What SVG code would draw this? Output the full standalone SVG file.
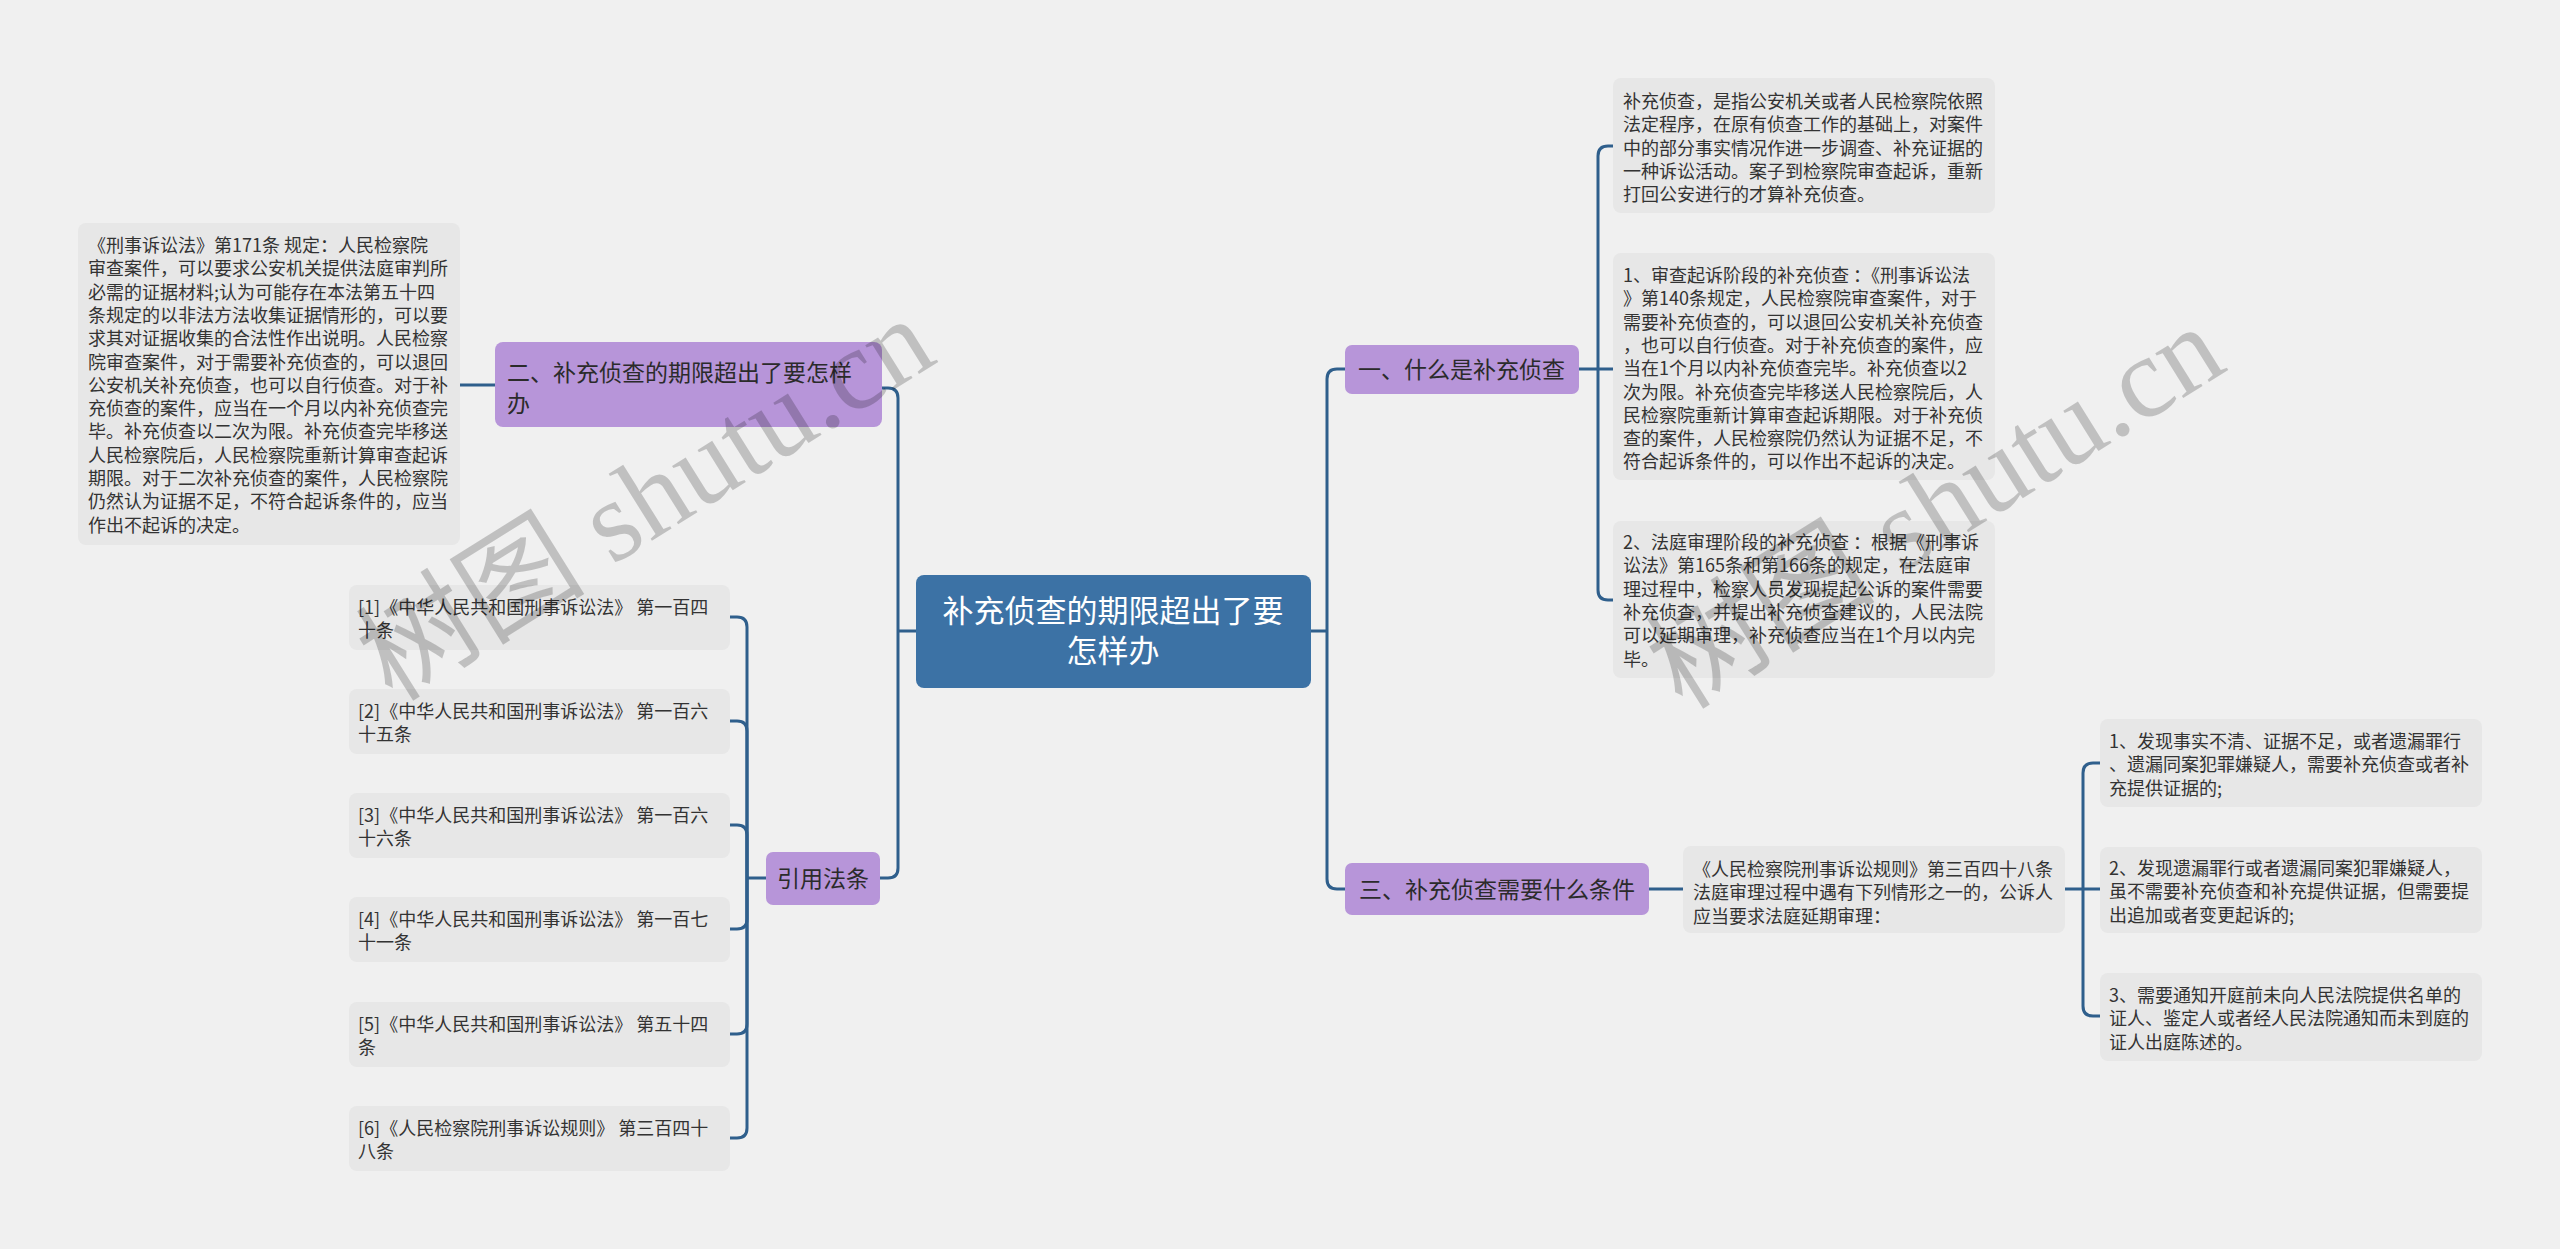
<svg xmlns="http://www.w3.org/2000/svg" width="2560" height="1249" viewBox="0 0 2560 1249">
<style>
.bg{fill:#f0f0f0}
.leaf{fill:#e7e7e7}
.sub{fill:#b795d9}
.root{fill:#3c72a5}
.lt{font-family:'Noto Sans CJK SC','Noto Sans',sans-serif;font-size:18px;fill:#333}
.st{font-family:'Noto Sans CJK SC','Noto Sans',sans-serif;font-size:23px;fill:#2b2b2b}
.rt{font-family:'Noto Sans CJK SC','Noto Sans',sans-serif;font-size:31px;fill:#ffffff;text-anchor:middle}
.wm{font-family:'Liberation Serif','Noto Sans CJK SC',serif;font-size:115px;fill:#000;fill-opacity:0.2;text-anchor:middle}
#connectors path{fill:none;stroke:#2f5f8c;stroke-width:3}
</style>
<rect class="bg" x="0" y="0" width="2560" height="1249"/>
<g id="connectors">
<path d="M916 631 H898"/>
<path d="M898 631 V398 Q898 388 888 388 H882"/>
<path d="M898 631 V868 Q898 878 888 878 H880"/>
<path d="M495 385 H460"/>
<path d="M766 878 H747"/>
<path d="M747 878 V627 Q747 617 737 617 H730"/>
<path d="M747 878 V731 Q747 721 737 721 H730"/>
<path d="M747 878 V835 Q747 825 737 825 H730"/>
<path d="M747 878 V919 Q747 929 737 929 H730"/>
<path d="M747 878 V1024 Q747 1034 737 1034 H730"/>
<path d="M747 878 V1128 Q747 1138 737 1138 H730"/>
<path d="M1311 631 H1327"/>
<path d="M1327 631 V379 Q1327 369 1337 369 H1345"/>
<path d="M1327 631 V879 Q1327 889 1337 889 H1345"/>
<path d="M1579 369 H1598"/>
<path d="M1598 369 V156 Q1598 146 1608 146 H1613"/>
<path d="M1598 369 H1613"/>
<path d="M1598 369 V590 Q1598 600 1608 600 H1613"/>
<path d="M1649 889 H1683"/>
<path d="M2065 889 H2083"/>
<path d="M2083 889 V773 Q2083 763 2093 763 H2100"/>
<path d="M2083 889 H2100"/>
<path d="M2083 889 V1006 Q2083 1016 2093 1016 H2100"/>
</g>
<g id="root">
<rect class="root" x="916" y="575" width="395" height="113" rx="8"/>
<text class="rt" x="1113" y="622">补充侦查的期限超出了要</text>
<text class="rt" x="1113" y="662">怎样办</text>
</g>
<g id="n2">
<rect class="sub" x="495" y="342" width="387" height="85" rx="8"/>
<text class="st" x="507" y="381">二、补充侦查的期限超出了要怎样</text>
<text class="st" x="507" y="412">办</text>
</g>
<g id="n2-text">
<rect class="leaf" x="78" y="223" width="382" height="322" rx="8"/>
<text class="lt" x="88" y="252"><tspan x="88">《刑事诉讼法》第171条 规定：人民检察院</tspan><tspan x="88" dy="23.3">审查案件，可以要求公安机关提供法庭审判所</tspan><tspan x="88" dy="23.3">必需的证据材料;认为可能存在本法第五十四</tspan><tspan x="88" dy="23.3">条规定的以非法方法收集证据情形的，可以要</tspan><tspan x="88" dy="23.3">求其对证据收集的合法性作出说明。人民检察</tspan><tspan x="88" dy="23.3">院审查案件，对于需要补充侦查的，可以退回</tspan><tspan x="88" dy="23.3">公安机关补充侦查，也可以自行侦查。对于补</tspan><tspan x="88" dy="23.3">充侦查的案件，应当在一个月以内补充侦查完</tspan><tspan x="88" dy="23.3">毕。补充侦查以二次为限。补充侦查完毕移送</tspan><tspan x="88" dy="23.3">人民检察院后，人民检察院重新计算审查起诉</tspan><tspan x="88" dy="23.3">期限。对于二次补充侦查的案件，人民检察院</tspan><tspan x="88" dy="23.3">仍然认为证据不足，不符合起诉条件的，应当</tspan><tspan x="88" dy="23.3">作出不起诉的决定。</tspan></text>
</g>
<g id="refs">
<rect class="sub" x="766" y="852" width="114" height="53" rx="7"/>
<text class="st" x="777" y="887">引用法条</text>
</g>
<g id="ref1">
<rect class="leaf" x="349" y="585" width="381" height="65" rx="8"/>
<text class="lt" y="614"><tspan x="358">[1]《中华人民共和国刑事诉讼法》 第一百四</tspan><tspan x="358" dy="23.3">十条</tspan></text>
</g>
<g id="ref2">
<rect class="leaf" x="349" y="689" width="381" height="65" rx="8"/>
<text class="lt" y="718"><tspan x="358">[2]《中华人民共和国刑事诉讼法》 第一百六</tspan><tspan x="358" dy="23.3">十五条</tspan></text>
</g>
<g id="ref3">
<rect class="leaf" x="349" y="793" width="381" height="65" rx="8"/>
<text class="lt" y="822"><tspan x="358">[3]《中华人民共和国刑事诉讼法》 第一百六</tspan><tspan x="358" dy="23.3">十六条</tspan></text>
</g>
<g id="ref4">
<rect class="leaf" x="349" y="897" width="381" height="65" rx="8"/>
<text class="lt" y="926"><tspan x="358">[4]《中华人民共和国刑事诉讼法》 第一百七</tspan><tspan x="358" dy="23.3">十一条</tspan></text>
</g>
<g id="ref5">
<rect class="leaf" x="349" y="1002" width="381" height="65" rx="8"/>
<text class="lt" y="1031"><tspan x="358">[5]《中华人民共和国刑事诉讼法》 第五十四</tspan><tspan x="358" dy="23.3">条</tspan></text>
</g>
<g id="ref6">
<rect class="leaf" x="349" y="1106" width="381" height="65" rx="8"/>
<text class="lt" y="1135"><tspan x="358">[6]《人民检察院刑事诉讼规则》 第三百四十</tspan><tspan x="358" dy="23.3">八条</tspan></text>
</g>
<g id="n1">
<rect class="sub" x="1345" y="345" width="234" height="49" rx="7"/>
<text class="st" x="1358" y="378">一、什么是补充侦查</text>
</g>
<g id="n1-a">
<rect class="leaf" x="1613" y="78" width="382" height="135" rx="8"/>
<text class="lt" y="108"><tspan x="1623">补充侦查，是指公安机关或者人民检察院依照</tspan><tspan x="1623" dy="23.3">法定程序，在原有侦查工作的基础上，对案件</tspan><tspan x="1623" dy="23.3">中的部分事实情况作进一步调查、补充证据的</tspan><tspan x="1623" dy="23.3">一种诉讼活动。案子到检察院审查起诉，重新</tspan><tspan x="1623" dy="23.3">打回公安进行的才算补充侦查。</tspan></text>
</g>
<g id="n1-b">
<rect class="leaf" x="1613" y="253" width="382" height="227" rx="8"/>
<text class="lt" y="282"><tspan x="1623">1、审查起诉阶段的补充侦查 ：《刑事诉讼法</tspan><tspan x="1623" dy="23.3">》第140条规定，人民检察院审查案件，对于</tspan><tspan x="1623" dy="23.3">需要补充侦查的，可以退回公安机关补充侦查</tspan><tspan x="1623" dy="23.3">，也可以自行侦查。对于补充侦查的案件，应</tspan><tspan x="1623" dy="23.3">当在1个月以内补充侦查完毕。补充侦查以2</tspan><tspan x="1623" dy="23.3">次为限。补充侦查完毕移送人民检察院后，人</tspan><tspan x="1623" dy="23.3">民检察院重新计算审查起诉期限。对于补充侦</tspan><tspan x="1623" dy="23.3">查的案件，人民检察院仍然认为证据不足，不</tspan><tspan x="1623" dy="23.3">符合起诉条件的，可以作出不起诉的决定。</tspan></text>
</g>
<g id="n1-c">
<rect class="leaf" x="1613" y="521" width="382" height="157" rx="8"/>
<text class="lt" y="549"><tspan x="1623">2、法庭审理阶段的补充侦查 ：根据《刑事诉</tspan><tspan x="1623" dy="23.3">讼法》第165条和第166条的规定，在法庭审</tspan><tspan x="1623" dy="23.3">理过程中，检察人员发现提起公诉的案件需要</tspan><tspan x="1623" dy="23.3">补充侦查，并提出补充侦查建议的，人民法院</tspan><tspan x="1623" dy="23.3">可以延期审理，补充侦查应当在1个月以内完</tspan><tspan x="1623" dy="23.3">毕。</tspan></text>
</g>
<g id="n3">
<rect class="sub" x="1345" y="863" width="304" height="52" rx="7"/>
<text class="st" x="1359" y="898">三、补充侦查需要什么条件</text>
</g>
<g id="n3-rule">
<rect class="leaf" x="1683" y="846" width="382" height="87" rx="8"/>
<text class="lt" y="876"><tspan x="1693">《人民检察院刑事诉讼规则》第三百四十八条</tspan><tspan x="1693" dy="23.3">法庭审理过程中遇有下列情形之一的，公诉人</tspan><tspan x="1693" dy="23.3">应当要求法庭延期审理：</tspan></text>
</g>
<g id="n3-e1">
<rect class="leaf" x="2100" y="719" width="382" height="88" rx="8"/>
<text class="lt" y="748"><tspan x="2109">1、发现事实不清、证据不足，或者遗漏罪行</tspan><tspan x="2109" dy="23.3">、遗漏同案犯罪嫌疑人，需要补充侦查或者补</tspan><tspan x="2109" dy="23.3">充提供证据的;</tspan></text>
</g>
<g id="n3-e2">
<rect class="leaf" x="2100" y="847" width="382" height="86" rx="8"/>
<text class="lt" y="875"><tspan x="2109">2、发现遗漏罪行或者遗漏同案犯罪嫌疑人，</tspan><tspan x="2109" dy="23.3">虽不需要补充侦查和补充提供证据，但需要提</tspan><tspan x="2109" dy="23.3">出追加或者变更起诉的;</tspan></text>
</g>
<g id="n3-e3">
<rect class="leaf" x="2100" y="973" width="382" height="88" rx="8"/>
<text class="lt" y="1002"><tspan x="2109">3、需要通知开庭前未向人民法院提供名单的</tspan><tspan x="2109" dy="23.3">证人、鉴定人或者经人民法院通知而未到庭的</tspan><tspan x="2109" dy="23.3">证人出庭陈述的。</tspan></text>
</g>
<g id="watermarks">
<text class="wm" transform="translate(645,498) rotate(-32)" x="0" y="40">树图 shutu.cn</text>
<text class="wm" transform="translate(1935,506) rotate(-32)" x="0" y="40">树图 shutu.cn</text>
</g>
</svg>
